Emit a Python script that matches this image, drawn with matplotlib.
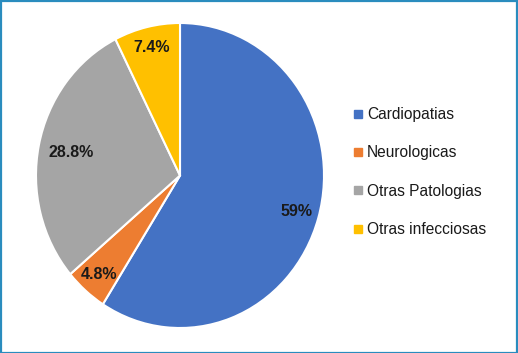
import numpy as np
import matplotlib
matplotlib.use('Agg')
import matplotlib.pyplot as plt
from matplotlib.lines import Line2D
from matplotlib.patches import Rectangle

plt.rcParams['font.family'] = ['Liberation Sans', 'DejaVu Sans']

# datos
categorias = ['Cardiopatias', 'Neurologicas', 'Otras Patologias', 'Otras infecciosas']
valores = [59, 4.8, 28.8, 7.4]
colores = ['#4472C4', '#ED7D31', '#A5A5A5', '#FFC000']
dist_etiquetas = [0.84, 0.86, 0.77, 0.86]

fig = plt.figure(figsize=(5.18, 3.53), dpi=100)
W, H = 518, 353

# pie un poco elíptico como en la imagen original
ax = fig.add_axes([36 / W, 25 / H, 288 / W, 305 / H])
wedges, _ = ax.pie(valores, colors=colores, startangle=90, counterclock=False,
                   radius=1, wedgeprops=dict(edgecolor='white', linewidth=1.5))
ax.set_aspect('auto')
ax.set_xlim(-1, 1)
ax.set_ylim(-1, 1)
ax.axis('off')

for w, v, d in zip(wedges, valores, dist_etiquetas):
    ang = np.deg2rad((w.theta1 + w.theta2) / 2)
    ax.text(d * np.cos(ang), d * np.sin(ang), f'{v:g}%', ha='center', va='center',
            fontsize=11.5, fontweight='bold', color='#1a1a1a')

# leyenda
handles = [Line2D([], [], marker='s', linestyle='none', markersize=5.5,
                  markerfacecolor=c, markeredgecolor=c) for c in colores]
fig.legend(handles, categorias, loc='center left', bbox_to_anchor=(339 / W, 1 - 172 / H),
           frameon=False, fontsize=11.2, labelspacing=1.5, handlelength=0.7,
           handletextpad=0.2, labelcolor='#1a1a1a')

# marco
fig.add_artist(Rectangle((0.5 / W, 0.5 / H), 1 - 1.5 / W, 1 - 1.5 / H, transform=fig.transFigure,
                         fill=False, edgecolor='#2A8CBE', linewidth=1.6))

fig.savefig('out.png', dpi=100)
